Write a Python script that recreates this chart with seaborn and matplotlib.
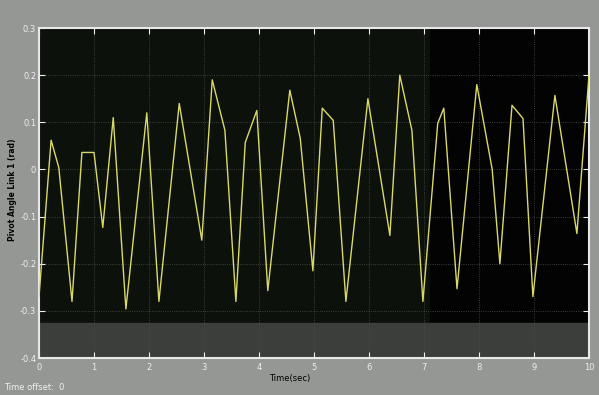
import numpy as np
import pandas as pd
import matplotlib
matplotlib.use("Agg")
import matplotlib.pyplot as plt
import seaborn as sns

# scope trace (time in s, angle in rad)
time_sec = [0.0, 0.22, 0.36, 0.6, 0.78, 1.0, 1.16, 1.35, 1.58, 1.96, 2.18, 2.55,
            2.96, 3.15, 3.38, 3.58, 3.75, 3.96, 4.16, 4.56, 4.75, 4.98, 5.15, 5.35,
            5.58, 5.98, 6.38, 6.56, 6.78, 6.98, 7.25, 7.36, 7.6, 7.96, 8.24, 8.38,
            8.6, 8.8, 8.98, 9.38, 9.78, 10.0]
angle_rad = [-0.27, 0.062, 0.004, -0.28, 0.036, 0.036, -0.123, 0.11, -0.296, 0.12,
             -0.28, 0.14, -0.15, 0.19, 0.083, -0.28, 0.057, 0.125, -0.257, 0.168,
             0.066, -0.215, 0.13, 0.104, -0.28, 0.15, -0.14, 0.2, 0.083, -0.28,
             0.098, 0.13, -0.253, 0.18, 0.0, -0.2, 0.136, 0.108, -0.27, 0.157,
             -0.136, 0.2]
x_ticks = list(range(0, 11))
y_ticks = [-0.4, -0.3, -0.2, -0.1, 0, 0.1, 0.2, 0.3]
y_tick_labels = ["-0.4", "-0.3", "-0.2", "-0.1", "0", "0.1", "0.2", "0.3"]

df = pd.DataFrame({"t": time_sec, "angle": angle_rad})

sns.set_style("dark")
fig = plt.figure(figsize=(5.99, 3.95), dpi=100)
fig.patch.set_facecolor("#959795")
ax = fig.add_axes([39 / 599, 37 / 395, 550 / 599, 330 / 395])
ax.set_facecolor("#0c110c")

# darker right part and grey lower band, as in the scanned scope
ax.axvspan(7.1, 10, color="#030303", zorder=0)
ax.axhspan(-0.4, -0.325, color="#3b3e3b", zorder=0.5)

sns.lineplot(data=df, x="t", y="angle", ax=ax, color="#d9d96a", linewidth=1.0,
             zorder=3)

ax.set_xlim(0, 10)
ax.set_ylim(-0.4, 0.3)
ax.set_xticks(x_ticks)
ax.set_xticklabels([str(v) for v in x_ticks])
ax.set_yticks(y_ticks)
ax.set_yticklabels(y_tick_labels)
ax.grid(True, color="#4a4f4a", linestyle=":", linewidth=0.6)
ax.tick_params(colors="#eeeeee", labelsize=6, direction="in", length=4,
               top=True, right=True, bottom=True, left=True)
ax.tick_params(axis="y", pad=2)
for sp in ax.spines.values():
    sp.set_color("#e8e8e8")
    sp.set_linewidth(1.5)
ax.set_xlabel("")
ax.set_ylabel("")

fig.text(13 / 599, 1 - 190 / 395, "Pivot Angle Link 1 (rad)", rotation=90,
         ha="center", va="center", fontsize=5.5, color="black", fontweight="bold")
fig.text(290 / 599, 1 - 378 / 395, "Time(sec)", ha="center", va="center",
         fontsize=6, color="black")
fig.text(4 / 599, 1 - 388 / 395, "Time offset:  0", ha="left", va="center",
         fontsize=6, color="#f0f0f0")

fig.savefig("out.png", dpi=100, facecolor=fig.get_facecolor())
